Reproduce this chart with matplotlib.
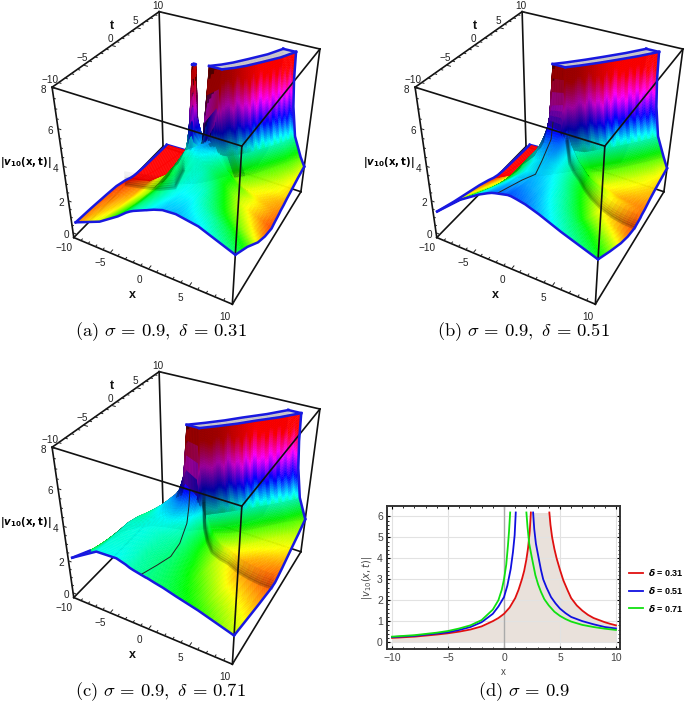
import numpy as np
import matplotlib
matplotlib.use('Agg')
import matplotlib.pyplot as plt
from matplotlib.colors import hsv_to_rgb
from mpl_toolkits.mplot3d.art3d import Poly3DCollection

plt.rcParams['mathtext.fontset'] = 'cm'
W, H = 685, 703

# ---------- values ----------
# every row is one t, columns sit at column_centre + COLUMN_OFFSETS (clipped to the surface edges)
COLUMN_OFFSETS = [-30, -6, -3.5, -2.4, -1.9, -1.5, 0, .12, .4, 1, 2, 3.5, 6, 30]
CLIP_Z = 7.6

a_t = [-10, -7, -4, -2, 0, 1, 1.7, 2.2, 2.6, 3.5, 4.5, 6, 8, 10]
a_centre = [0, 0, 0, 0, 0, 0, 1, 1.5, 2, 3, 3.9, 5, 6.4, 7.4]
a_z = [
    [1.05, 1.7, 2.45, 2.85, 3.0, 3.1, 3.4, 3.42, 3.48, 3.6, 3.75, 3.8, 3.6, 2.85],
    [.98, 1.45, 2.15, 2.55, 2.75, 2.85, 3.2, 3.22, 3.28, 3.4, 3.55, 3.55, 3.1, 2.2],
    [.88, 1.25, 1.9, 2.35, 2.55, 2.7, 3.1, 3.12, 3.18, 3.3, 3.4, 3.25, 2.4, 1.4],
    [.8, 1.15, 1.85, 2.35, 2.6, 2.75, 3.15, 3.17, 3.2, 3.3, 3.3, 2.95, 2.0, 1.05],
    [.6, 1.0, 1.85, 2.55, 2.85, 3.05, 3.3, 3.3, 3.3, 3.3, 3.1, 2.6, 1.65, .85],
    [.45, .72, 1.5, 2.6, 3.0, 3.3, 3.7, 3.7, 3.7, 3.6, 3.2, 2.6, 1.7, .95],
    [.38, .55, 1.1, 2.4, 3.0, 3.4, 4.0, 4.1, 4.0, 3.5, 2.9, 2.2, 1.5, 1.0],
    [.35, .5, .9, 1.6, 2.3, 3.3, 4.8, 5.2, 4.4, 3.3, 2.4, 1.85, 1.35, 1.05],
    [.33, .48, .85, 1.5, 2.6, 7.6, 7.6, 6.2, 4.8, 3.2, 2.1, 1.6, 1.3, 1.1],
    [.3, .45, .85, 1.5, 3.0, 7.6, 7.6, 6.2, 4.8, 3.2, 2.1, 1.6, 1.25, 1.15],
    [.27, .42, .85, 1.6, 3.2, 7.6, 7.6, 6.2, 4.8, 3.2, 2.1, 1.65, 1.35, 1.25],
    [.25, .4, .85, 1.7, 3.4, 7.6, 7.6, 6.2, 4.8, 3.2, 2.15, 1.7, 1.35, 1.35],
    [.22, .38, .85, 1.8, 3.6, 7.6, 7.6, 6.2, 4.8, 3.2, 2.2, 1.5, 1.5, 1.5],
    [.2, .36, .85, 1.9, 3.8, 7.6, 7.6, 6.2, 4.8, 3.2, 2.1, 1.6, 1.6, 1.6],
]
# the narrow separate spike in panel (a)
spike_x = [-2.0, -1.5, -1.2, -.9, -.6, .1]
spike_t = [1.2, 1.8, 2.0, 2.3, 2.5, 3.0]
spike_z = [
    [2.7, 3.0, 3.2, 3.3, 3.4, 3.6],
    [2.8, 4.0, 5.5, 5.8, 4.5, 3.8],
    [2.4, 4.8, 7.6, 7.6, 5.0, 4.0],
    [1.8, 4.5, 7.6, 7.6, 4.8, 3.8],
    [1.4, 3.0, 5.0, 5.2, 3.5, 3.2],
    [1.0, 1.2, 1.4, 1.5, 1.6, 2.0],
]
a_dark_x = [-9, -7, -5, -3, -2]
a_dark_t = [-.5, .2, .7, 1.1, 1.4]
a_dark_z = [.5, .45, .5, .8, 1.9]

b_t = [-10, -7, -4, -2, 0, 1, 1.7, 2, 3, 4.5, 6, 8, 10]
b_centre = [0, 0, 0, 0, 0, 0, 0, 0, 1.1, 2.6, 4, 5.8, 7.4]
b_z = [
    [1.7, 2.95, 3.65, 3.9, 4.0, 4.05, 4.2, 4.2, 4.2, 4.15, 4.05, 3.8, 3.3, 2.6],
    [1.35, 2.4, 3.2, 3.55, 3.65, 3.75, 3.9, 3.9, 3.9, 3.85, 3.75, 3.4, 2.8, 1.95],
    [1.05, 1.85, 2.8, 3.2, 3.35, 3.5, 3.7, 3.7, 3.7, 3.65, 3.45, 3.0, 2.1, 1.35],
    [.85, 1.6, 2.75, 3.2, 3.4, 3.55, 3.8, 3.8, 3.75, 3.6, 3.25, 2.65, 1.7, 1.05],
    [.6, 1.4, 2.9, 3.5, 3.8, 4.0, 4.1, 4.1, 4.05, 3.6, 3.1, 2.4, 1.45, .88],
    [.45, 1.0, 2.6, 3.6, 4.2, 4.7, 4.6, 4.4, 4.1, 3.7, 3.1, 2.35, 1.5, .92],
    [.38, .8, 1.9, 3.4, 4.4, 5.6, 5.8, 5.2, 4.5, 3.8, 3.0, 2.25, 1.5, .95],
    [.35, .7, 1.7, 3.2, 4.8, 7.6, 7.6, 6.2, 4.8, 3.4, 2.6, 2.1, 1.5, 1.0],
    [.3, .65, 1.5, 2.7, 4.6, 7.6, 7.6, 6.2, 4.8, 3.2, 2.15, 1.55, 1.2, 1.05],
    [.27, .6, 1.3, 2.6, 4.6, 7.6, 7.6, 6.2, 4.8, 3.2, 2.1, 1.6, 1.3, 1.2],
    [.25, .55, 1.2, 2.6, 4.6, 7.6, 7.6, 6.2, 4.8, 3.2, 2.1, 1.65, 1.3, 1.3],
    [.22, .5, 1.1, 2.6, 4.6, 7.6, 7.6, 6.2, 4.8, 3.2, 2.1, 1.55, 1.4, 1.4],
    [.2, .45, 1.0, 2.6, 4.6, 7.6, 7.6, 6.2, 4.8, 3.2, 2.1, 1.5, 1.5, 1.5],
]
b_fold_x = [-1.2, -1.4, -1.5, -1.2, -.6, -.8]
b_fold_t = [-10, -5, -2, -1, 0, .8]
b_fold_z = [4.1, 3.3, 2.75, 3.3, 4.3, 5.0]
b_dark_x = [10, 8.7, 7.5, 6.2, 5, 4.2, 3.5, 2.8, 2.2, 1.6]
b_dark_t = [0, -.3, -.6, -.85, -1, -1, -1, -.95, -.9, -.5]
b_dark_z = [.88, 1.05, 1.3, 1.65, 2.1, 2.45, 2.9, 3.2, 3.6, 4.6]

c_t = [-10, -7, -4, -2, 0, 1, 1.7, 3, 4.5, 6, 8, 10]
c_centre = [0, 0, 0, 0, 0, 0, -.2, 1.3, 2.9, 4.3, 6.3, 8]
c_z = [
    [2.5, 3.4, 3.45, 3.3, 3.2, 3.15, 3.0, 3.0, 2.97, 2.9, 2.8, 2.6, 2.3, 1.7],
    [2.0, 3.3, 3.35, 3.25, 3.15, 3.1, 2.95, 2.95, 2.9, 2.85, 2.65, 2.35, 1.9, 1.45],
    [1.6, 3.3, 3.4, 3.3, 3.25, 3.2, 3.05, 3.03, 2.95, 2.8, 2.5, 2.0, 1.55, 1.2],
    [1.4, 3.1, 3.45, 3.5, 3.5, 3.45, 3.2, 3.15, 3.05, 2.8, 2.35, 1.8, 1.35, 1.05],
    [1.2, 2.8, 3.7, 3.9, 4.0, 4.1, 3.6, 3.5, 3.3, 2.9, 2.3, 1.65, 1.2, .9],
    [1.0, 2.5, 3.7, 4.2, 4.6, 4.8, 4.3, 4.1, 3.8, 3.1, 2.35, 1.65, 1.2, .88],
    [.85, 2.1, 3.3, 4.2, 5.0, 7.6, 7.6, 6.0, 4.6, 3.2, 2.3, 1.6, 1.2, .95],
    [.6, 1.5, 2.3, 3.2, 4.6, 7.6, 7.6, 6.2, 4.8, 3.2, 2.15, 1.6, 1.25, 1.1],
    [.42, .9, 1.8, 3.0, 4.6, 7.6, 7.6, 6.2, 4.8, 3.2, 2.15, 1.65, 1.4, 1.3],
    [.38, .8, 1.7, 3.0, 4.6, 7.6, 7.6, 6.2, 4.8, 3.2, 2.15, 1.7, 1.5, 1.5],
    [.35, .75, 1.6, 3.0, 4.6, 7.6, 7.6, 6.2, 4.8, 3.2, 2.2, 1.8, 1.75, 1.75],
    [.3, .7, 1.5, 3.0, 4.6, 7.6, 7.6, 6.2, 4.8, 3.2, 2.05, 2.05, 2.05, 2.05],
]
c_fold_x = [-.6, -.2, 0, 0, -.2, -.5, -.8]
c_fold_t = [-10, -7.5, -5, -3, -1, 0, .8]
c_fold_z = [3.05, 2.85, 2.6, 2.75, 3.3, 3.9, 4.6]
c_dark_x = [10, 8.7, 7.5, 6.2, 5, 4, 3, 2.4, 2, 1.6]
c_dark_t = [0, -.3, -.6, -.85, -1, -1, -1, -1, -1, -.5]
c_dark_z = [.88, 1.0, 1.2, 1.45, 1.8, 1.9, 2.1, 2.6, 3.3, 4.5]

# colour streaks down the wall, read along t
streak_t = [2, 2.5, 3, 3.4, 3.8, 4.2, 4.5, 4.9, 5.2, 5.6, 6, 6.3, 6.7, 7, 7.3, 7.7, 8, 8.3, 8.7, 9, 9.4, 9.7, 10]
streak_v = [0, .03, -.03, .03, -.05, .04, -.02, .06, -.04, .05, -.06, .04, -.02, .07, -.05, .05, -.06, .05, -.03, .06, -.04, .04, 0]
# the start of the wall is darker than the rest of it
wall_dark_t = [1.5, 3, 4.5, 6, 10]
wall_dark_v = [.5, .55, .78, 1, 1]

# ---------- values ----------
red_left_x = [-10, -8, -6, -5, -4, -3, -2, -1, -.5, 0, .5, 1, 1.3, 1.6, 1.8, 2, 2.15, 2.3, 2.4]
red_left_y = [.2, .26, .36, .42, .5, .6, .75, 1.0, 1.15, 1.35, 1.65, 2.1, 2.5, 3.0, 3.4, 3.95, 4.5, 5.3, 6.19]
red_right_x = [4.05, 4.15, 4.3, 4.5, 4.7, 5, 5.3, 5.7, 6, 6.5, 7, 7.5, 8, 8.5, 9, 9.5, 10]
red_right_y = [6.19, 5.6, 5.0, 4.45, 4.0, 3.45, 2.95, 2.45, 2.1, 1.75, 1.5, 1.3, 1.15, 1.05, .95, .87, .8]
blue_left_x = [-10, -8, -6, -5, -4, -3, -2, -1, -.5, 0, .3, .6, .8, .95, 1.05]
blue_left_y = [.24, .3, .41, .47, .58, .72, .95, 1.35, 1.7, 2.15, 2.7, 3.5, 4.3, 5.1, 6.19]
blue_right_x = [2.6, 2.7, 2.85, 3.1, 3.3, 3.5, 3.8, 4.2, 4.6, 5, 5.5, 6, 7, 8, 9, 10]
blue_right_y = [6.19, 5.4, 4.7, 4.0, 3.45, 3.0, 2.6, 2.15, 1.85, 1.6, 1.38, 1.2, 1.0, .85, .72, .65]
green_left_x = [-10, -8, -6, -5, -4, -3, -2, -1, -.5, -.2, 0, .2, .35, .45, .55]
green_left_y = [.26, .33, .45, .53, .65, .8, 1.05, 1.55, 2.0, 2.5, 3.0, 3.7, 4.6, 5.3, 6.19]
green_right_x = [2.0, 2.1, 2.25, 2.5, 2.8, 3.05, 3.3, 3.6, 4, 4.5, 5, 5.5, 6, 7, 8, 9, 10]
green_right_y = [6.19, 5.5, 4.7, 4.0, 3.2, 2.75, 2.4, 2.05, 1.75, 1.45, 1.25, 1.1, .98, .82, .72, .64, .58]
legend_labels = [r'$\boldsymbol{\delta}$ = 0.31', r'$\boldsymbol{\delta}$ = 0.51', r'$\boldsymbol{\delta}$ = 0.71']

# hue against height, as read from the surfaces
Z_STOPS = [.6, 1.05, 1.45, 2.4, 3.5, 4.5, 5.7, 7.0]
HUE_STOPS = [0, .08, .16, .33, .5, .66, .83, 1.0]

# where the box corners land inside a panel (pixels from the panel's top left)
BOX_3D = [(-10, -10, 8), (10, -10, 8), (-10, 10, 8), (10, 10, 8),
          (-10, -10, 0), (10, -10, 0), (-10, 10, 0), (10, 10, 0)]
BOX_PX = [(52, 87), (242, 146), (159, 12), (320, 49),
          (74, 238), (232, 304), (163, 146), (301, 192)]
PANEL = 325
SURF_LEFT = -9.4
BLUE = '#1818e0'


def fit_camera(points_px):
    A, b = [], []
    for (x, y, z), (u, v) in zip(BOX_3D, points_px):
        A.append([x, y, z, 1, 0, 0, 0, 0, -u * x, -u * y, -u * z])
        A.append([0, 0, 0, 0, x, y, z, 1, -v * x, -v * y, -v * z])
        b += [u, v]
    return np.linalg.lstsq(np.array(A, float), np.array(b, float), rcond=None)[0]


def make_proj(ax):
    # camera matrix from the box corners, worked out at draw time
    def get_proj():
        x0, y0 = ax.bbox.x0, ax.bbox.y1
        pts = ax.transData.inverted().transform([(x0 + u, y0 - v) for u, v in BOX_PX])
        p = fit_camera(pts)
        return np.array([p[:4], p[4:8], [0, 0, 0, -1], [p[8], p[9], p[10], 1.0]])
    return get_proj


CAM = fit_camera(BOX_PX)


def to_px(x, t, z):
    w = CAM[8] * x + CAM[9] * t + CAM[10] * z + 1
    return ((CAM[0] * x + CAM[1] * t + CAM[2] * z + CAM[3]) / w,
            (CAM[4] * x + CAM[5] * t + CAM[6] * z + CAM[7]) / w)


def screen_area(q):
    # signed area on the screen, the sign tells which side of a cell is seen
    u, v = to_px(q[..., 0], q[..., 1], q[..., 2])
    return (u[..., 2] - u[..., 0]) * (v[..., 3] - v[..., 1]) - (v[..., 2] - v[..., 0]) * (u[..., 3] - u[..., 1])


FLOOR_SIGN = np.sign(screen_area(np.array([[0., 0, 0], [1, 0, 0], [1, 1, 0], [0, 1, 0]])))


def cell_patches(xg, tg, zg, streak=True):
    # each read cell is split up only so that the colour runs smoothly over it
    quads, cols = [], []
    for i in range(xg.shape[0] - 1):
        for j in range(xg.shape[1] - 1):
            if xg[i, j + 1] - xg[i, j] < 1e-6 and xg[i + 1, j + 1] - xg[i + 1, j] < 1e-6:
                continue
            dz = max(abs(zg[i, j + 1] - zg[i, j]), abs(zg[i + 1, j + 1] - zg[i + 1, j]))
            nu = int(np.clip(3 + 10 * dz, 3, 24))
            nv = int(np.clip((tg[i + 1, j] - tg[i, j]) * 6, 3, 12))
            u, v = np.meshgrid(np.linspace(0, 1, nu + 1), np.linspace(0, 1, nv + 1))
            blend = lambda g: ((1 - v) * ((1 - u) * g[i, j] + u * g[i, j + 1])
                               + v * ((1 - u) * g[i + 1, j] + u * g[i + 1, j + 1]))
            p = np.stack([blend(xg), blend(tg), blend(zg)], axis=-1)
            q = np.stack([p[:-1, :-1], p[:-1, 1:], p[1:, 1:], p[1:, :-1]], axis=2)
            d1 = (q[:, :, 2] - q[:, :, 0]) / [20, 20, 10]
            d2 = (q[:, :, 3] - q[:, :, 1]) / [20, 20, 10]
            nrm = np.cross(d1, d2)
            nrm /= np.linalg.norm(nrm, axis=-1, keepdims=True) + 1e-12
            light = np.clip(nrm @ np.array([.25, -.15, .95]), 0, 1)
            zm = q[:, :, :, 2].mean(axis=-1)
            tm = q[:, :, :, 1].mean(axis=-1)
            zc = zm.copy()
            val = .62 + .38 * np.clip(light / .7, 0, 1)
            steep = light < .55
            if streak:
                zc[steep] = zm[steep] * (1 + np.interp(tm[steep], streak_t, streak_v))
                val[steep] *= np.interp(tm[steep], wall_dark_t, wall_dark_v)
                val[steep] += .2
            val[np.sign(screen_area(q)) != FLOOR_SIGN] *= .55
            hsv = np.stack([np.interp(zc, Z_STOPS, HUE_STOPS), np.ones_like(zm), np.clip(val, 0, 1)], axis=-1)
            rgb = hsv_to_rgb(hsv)
            rgb[zm >= CLIP_Z - .01] = (.8, .8, .82)
            quads.append(q.reshape(-1, 4, 3))
            cols.append(rgb.reshape(-1, 3))
    return quads, cols


def panel_3d(off_x, off_y, t, centre, z, left_rows=None, spike=None, fold=None, dark=None):
    ax = fig.add_axes([off_x / W, 1 - (off_y + PANEL) / H, PANEL / W, PANEL / H], projection='3d')
    ax.set_axis_off()
    ax.patch.set_alpha(0)
    ax.computed_zorder = False
    ax.get_proj = make_proj(ax)

    z = np.array(z, float)
    tg = np.repeat(np.array(t, float)[:, None], z.shape[1], axis=1)
    xg = np.clip(np.array(centre, float)[:, None] + np.array(COLUMN_OFFSETS, float), SURF_LEFT, 10)

    # box: back and floor edges first, the near edges over the surface
    back = [((-10, 10, 0), (-10, 10, 8)), ((-10, 10, 8), (10, 10, 8)), ((10, 10, 8), (10, 10, 0)),
            ((-10, 10, 0), (10, 10, 0)), ((10, 10, 0), (10, -10, 0)), ((-10, -10, 0), (-10, 10, 0)),
            ((-10, -10, 0), (10, -10, 0)), ((-10, -10, 8), (-10, 10, 8))]
    front = [((-10, -10, 8), (10, -10, 8)), ((10, -10, 8), (10, 10, 8)), ((10, -10, 0), (10, -10, 8)),
             ((-10, -10, 0), (-10, -10, 8))]
    for p0, p1 in back:
        ax.plot(*zip(p0, p1), color='#111111', lw=1.2, zorder=1)
    for p0, p1 in front:
        ax.plot(*zip(p0, p1), color='#111111', lw=1.2, zorder=4)

    # ticks on the three labelled edges
    for v in range(-10, 11):
        d = .5 if v % 5 == 0 else .28
        ax.plot([-10, -10 + d], [v, v], [8, 8], color='#222222', lw=.7, zorder=1)
        ax.plot([v, v], [-10, -10 + d], [0, 0], color='#222222', lw=.7, zorder=1)
    for v in np.arange(0, 8.01, .5):
        d = .35 if v % 2 == 0 else .2
        zt = .3 + v * .96
        ax.plot([-10, -10 + d], [-10, -10], [zt, zt], color='#222222', lw=.7, zorder=4)

    def label(x, y, zz, s, **kw):
        u, v = to_px(x, y, zz)
        fig.text((off_x + u) / W, 1 - (off_y + v) / H, s, family='Liberation Sans', ha='center', va='center', **kw)

    for v in [-10, -5, 0, 5, 10]:
        lab = str(v).replace('-', '\u2212')
        label(-10.1, v, 8.3, lab, fontsize=7.2, color='#222222')
        label(v, -11.8, 0, lab, fontsize=7.2, color='#222222')
    for v in [0, 2, 4, 6, 8]:
        label(-10.3, -10.85, .4 + v * .95, str(v), fontsize=7.2, color='#222222')
    label(-10, .3, 8.85, 't', fontsize=9, color='#111111', weight='bold')
    label(.4, -13.8, 0, 'x', fontsize=9, color='#111111', weight='bold')

    quads, cols = cell_patches(xg, tg, z)
    if spike is not None:
        sx, st = np.meshgrid(spike[0], spike[1])
        q2, c2 = cell_patches(sx.astype(float), st.astype(float), np.array(spike[2], float), streak=False)
        quads += q2
        cols += c2
        top = [2, 3, 3, 2, 2]
        ax.plot(np.array(spike[0])[top], [2.0, 2.0, 2.3, 2.3, 2.0], [CLIP_Z] * 5, color=BLUE, lw=1.7, zorder=5)
    quads = np.concatenate(quads)
    cols = np.concatenate(cols)
    ax.add_collection3d(Poly3DCollection(quads, facecolors=cols, edgecolors=cols, linewidths=.3, zorder=2))

    if dark is not None:
        # soft dark band along the crease, fading up the slope
        for lift, a in zip([0, .12, .25, .4, .55, .75], [.2, .16, .13, .1, .07, .05]):
            ax.plot(dark[0], dark[1], np.array(dark[2]) + lift, color='black', lw=2.2, alpha=a, zorder=3)
    if fold is not None:
        ax.plot(*fold, color='#222222', lw=.7, zorder=3)

    # blue outline of the clipped surface
    k = xg.shape[1] - 1
    nl = len(t) if left_rows is None else left_rows
    ax.plot(xg[0], tg[0], z[0], color=BLUE, lw=1.8, zorder=5)
    ax.plot(xg[:nl, 0], tg[:nl, 0], z[:nl, 0], color=BLUE, lw=1.8, zorder=5)
    ax.plot(xg[:, k], tg[:, k], z[:, k], color=BLUE, lw=1.8, zorder=5)
    ax.plot(xg[-1, :6], tg[-1, :6], z[-1, :6], color=BLUE, lw=1.8, zorder=1.5)
    ax.plot(xg[-1, 6:], tg[-1, 6:], z[-1, 6:], color=BLUE, lw=1.8, zorder=5)
    top = z[:, 5] >= CLIP_Z
    ax.plot(xg[top, 5], tg[top, 5], z[top, 5], color=BLUE, lw=1.8, zorder=5)
    ax.plot(xg[top, 6], tg[top, 6], z[top, 6], color=BLUE, lw=1.8, zorder=5)
    first = np.argmax(top)
    ax.plot(xg[first, 5:7], tg[first, 5:7], z[first, 5:7], color=BLUE, lw=1.8, zorder=5)
    ax.plot(xg[-1, 5:7], tg[-1, 5:7], z[-1, 5:7], color=BLUE, lw=1.8, zorder=5)

    fig.text((off_x + 26) / W, 1 - (off_y + 163) / H, r'$\mathbf{|}\boldsymbol{v}_{\mathbf{10}}\mathbf{(x,t)|}$',
             fontsize=7.3, ha='center', va='center', math_fontfamily='dejavusans')
    return ax


fig = plt.figure(figsize=(W / 100, H / 100), dpi=100)

panel_3d(0, 0, a_t, a_centre, a_z, spike=(spike_x, spike_t, spike_z), dark=(a_dark_x, a_dark_t, a_dark_z))
panel_3d(363, 0, b_t, b_centre, b_z, fold=(b_fold_x, b_fold_t, b_fold_z), dark=(b_dark_x, b_dark_t, b_dark_z))
panel_3d(0, 360, c_t, c_centre, c_z, left_rows=2, fold=(c_fold_x, c_fold_t, c_fold_z), dark=(c_dark_x, c_dark_t, c_dark_z))

captions = [(161, 332, r'$\mathrm{(a)}\ \sigma\,=\,0.9,\ \delta\,=\,0.31$'),
            (524, 332, r'$\mathrm{(b)}\ \sigma\,=\,0.9,\ \delta\,=\,0.51$'),
            (161, 692, r'$\mathrm{(c)}\ \sigma\,=\,0.9,\ \delta\,=\,0.71$'),
            (524, 692, r'$\mathrm{(d)}\ \sigma\,=\,0.9$')]
for cx, cy, s in captions:
    fig.text(cx / W, 1 - cy / H, s, fontsize=13.4, ha='center', va='center')

# ---------- panel (d) ----------
ax = fig.add_axes([387 / W, 1 - 649 / H, 233 / W, 143 / H])
ax.fill_between(red_left_x + red_right_x, 0, red_left_y + red_right_y, color='#e9e1db', lw=0, zorder=1)
curves = [(red_left_x, red_left_y, red_right_x, red_right_y, '#e01010'),
          (blue_left_x, blue_left_y, blue_right_x, blue_right_y, '#1010e0'),
          (green_left_x, green_left_y, green_right_x, green_right_y, '#10e010')]
for (lx, ly, rx, ry, c), lab in zip(curves, legend_labels):
    ax.plot(lx, ly, color=c, lw=1.3, zorder=3, label=lab)
    ax.plot(rx, ry, color=c, lw=1.3, zorder=3)
ax.set_xlim(-10.45, 10.36)
ax.set_ylim(-.33, 6.5)
ax.set_xticks([-10, -5, 0, 5, 10])
ax.set_yticks(range(7))
ax.set_xticks(np.arange(-10, 10.1, 1), minor=True)
ax.set_yticks(np.arange(0, 6.1, .2), minor=True)
ax.grid(True, which='major', color='#e2e2e2', lw=.8, zorder=0)
ax.axvline(0, color='#aaaaaa', lw=1, zorder=2)
ax.tick_params(which='major', direction='in', length=2.5, width=.8, top=True, right=True, labelsize=7.5,
               labelcolor='#444444', pad=3)
ax.tick_params(which='minor', direction='in', length=1.2, width=.6, top=True, right=True)
for lab in ax.get_xticklabels() + ax.get_yticklabels():
    lab.set_family('Liberation Sans')
for s in ax.spines.values():
    s.set_linewidth(1.4)
    s.set_color('#333333')
ax.set_xlabel('x', fontsize=7, family='Liberation Sans', color='#444444', labelpad=3)
ax.set_ylabel(r'$|v_{10}(x,t)|$', fontsize=7, color='#444444', labelpad=2, math_fontfamily='dejavusans')
leg = ax.legend(loc='center left', bbox_to_anchor=(1.0, .41), frameon=False, handlelength=1.5,
                labelspacing=.75, handletextpad=.55, borderaxespad=.6,
                prop=dict(family='Liberation Sans', weight='bold', size=6.5))
for txt in leg.get_texts():
    txt.set_math_fontfamily('dejavusans')

fig.savefig('out.png', dpi=100)
